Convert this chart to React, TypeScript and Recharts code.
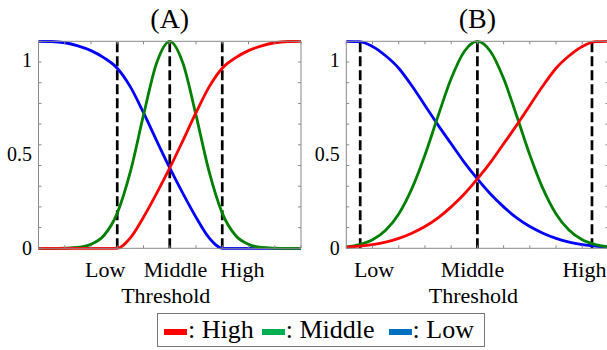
import { LineChart, Line, XAxis, YAxis, ReferenceLine } from 'recharts';

// x positions along the threshold axis (0 = left edge, 1 = right edge)
const xs = [0, 0.05, 0.1, 0.15, 0.2, 0.25, 0.3, 0.35, 0.4, 0.45, 0.5, 0.55, 0.6, 0.65, 0.7, 0.75, 0.8, 0.85, 0.9, 0.95, 1];

// panel (A)
const lowA = [1.0, 0.999, 0.993, 0.978, 0.955, 0.92, 0.87, 0.78, 0.655, 0.52, 0.388, 0.265, 0.15, 0.05, 0, 0, 0, 0, 0, 0, 0];
const midA = [0, 0, 0.001, 0.004, 0.019, 0.063, 0.17, 0.37, 0.643, 0.895, 1, 0.895, 0.643, 0.37, 0.17, 0.063, 0.019, 0.004, 0.001, 0, 0];
const highA = [0, 0, 0, 0, 0, 0, 0, 0.05, 0.15, 0.265, 0.388, 0.52, 0.655, 0.78, 0.87, 0.92, 0.955, 0.978, 0.993, 0.999, 1.0];

// panel (B)
const lowB = [1.0, 0.998, 0.975, 0.93, 0.87, 0.785, 0.69, 0.595, 0.505, 0.415, 0.335, 0.262, 0.2, 0.147, 0.105, 0.073, 0.048, 0.03, 0.018, 0.01, 0.005];
const midB = [0.007, 0.018, 0.041, 0.087, 0.166, 0.288, 0.451, 0.639, 0.82, 0.951, 1, 0.951, 0.82, 0.639, 0.451, 0.288, 0.166, 0.087, 0.041, 0.018, 0.007];
const highB = [0.005, 0.01, 0.018, 0.03, 0.048, 0.073, 0.105, 0.147, 0.2, 0.262, 0.335, 0.415, 0.505, 0.595, 0.69, 0.785, 0.87, 0.93, 0.975, 0.998, 1.0];

const thresholdNames = ['Low', 'Middle', 'High'];
const thresholdsA = [0.3, 0.5, 0.7];
const thresholdsB = [0.053, 0.5, 0.937];
const labelPosA = [0.254, 0.522, 0.777];
const labelPosB = [0.106, 0.481, 0.908];

const gridTicks = [0, 0.1, 0.2, 0.3, 0.4, 0.5, 0.6, 0.7, 0.8, 0.9, 1];
const yLabels = [0, 0.5, 1];

const seriesNames = ['High', 'Middle', 'Low'];
const lineColors = { High: '#ff0000', Middle: '#008000', Low: '#0000ff' };
const legendColors = { High: '#ff0000', Middle: '#00b050', Low: '#0070c0' };

const SERIF = '"Liberation Serif", "Times New Roman", serif';
const AXIS = '#8a8a8a';
const blank = () => '';

function rows(low: number[], mid: number[], high: number[]) {
  return xs.map((x, i) => ({ x, Low: low[i], Middle: mid[i], High: high[i] }));
}

interface PanelProps {
  title: string;
  data: ReturnType<typeof rows>;
  thresholds: number[];
  labelPos: number[];
  left: number;
  width: number;
  margin: { top: number; right: number; bottom: number; left: number };
}

function Panel({ title, data, thresholds, labelPos, left, width, margin }: PanelProps) {
  const textStyle = { fill: '#000', fontSize: 22, fontFamily: SERIF };
  return (
    <div style={{ position: 'absolute', left, top: 0 }}>
      <LineChart width={width} height={310} data={data} margin={margin}>
        {/* box with inward ticks (negative tick size points into the plot) */}
        <XAxis xAxisId="a0" dataKey="x" type="number" domain={[0, 1]} ticks={gridTicks} interval={0}
          height={1} tickFormatter={blank} tickSize={-3} stroke={AXIS} />
        <XAxis xAxisId="a1" dataKey="x" type="number" domain={[0, 1]} ticks={labelPos} interval={0}
          height={60} axisLine={false} tickLine={false} tickSize={0} tickMargin={12}
          tick={textStyle} tickFormatter={(_v: number, i: number) => thresholdNames[i]}
          label={{ value: 'Threshold', position: 'insideBottom', offset: 6.6, dx: -4, ...textStyle }} />
        <XAxis xAxisId="a2" dataKey="x" type="number" domain={[0, 1]} ticks={gridTicks} interval={0}
          orientation="top" height={1} tickFormatter={blank} tickSize={-3} stroke={AXIS}
          label={{ value: title, position: 'top', offset: 12.6, fill: '#000', fontSize: 28, fontFamily: SERIF }} />
        <YAxis yAxisId="b0" dataKey="High" type="number" domain={[0, 1]} ticks={gridTicks} interval={0}
          width={1} tickFormatter={blank} tickSize={-3} stroke={AXIS} />
        <YAxis yAxisId="b1" dataKey="High" type="number" domain={[0, 1.1]} ticks={yLabels} interval={0}
          width={1} axisLine={false} tickLine={false} tickSize={0} tickMargin={5.5}
          tick={{ fill: '#000', fontSize: 20, fontFamily: SERIF }} />
        <YAxis yAxisId="b2" dataKey="High" type="number" domain={[0, 1]} ticks={gridTicks} interval={0}
          orientation="right" width={1} tickFormatter={blank} tickSize={-3} stroke={AXIS} />

        {thresholds.map(t => (
          <ReferenceLine key={t} xAxisId="a0" yAxisId="b0" x={t} stroke="#000"
            strokeWidth={2.7} strokeDasharray="10 4" />
        ))}
        {['Low', 'Middle', 'High'].map(k => (
          <Line key={k} xAxisId="a0" yAxisId="b0" type="monotone" dataKey={k}
            stroke={lineColors[k as keyof typeof lineColors]} strokeWidth={2.8}
            dot={false} isAnimationActive={false} />
        ))}
      </LineChart>
    </div>
  );
}

export default function App() {
  return (
    <div style={{ position: 'absolute', left: 0, top: 0, width: 607, height: 350, overflow: 'hidden', background: '#fff', fontFamily: SERIF }}>
      <Panel title="(A)" data={rows(lowA, midA, highA)} thresholds={thresholdsA} labelPos={labelPosA}
        left={0} width={310} margin={{ top: 40.3, right: 8, bottom: 0.7, left: 36.5 }} />
      <Panel title="(B)" data={rows(lowB, midB, highB)} thresholds={thresholdsB} labelPos={labelPosB}
        left={310} width={300} margin={{ top: 40.3, right: 0.5, bottom: 0.7, left: 34.3 }} />

      {/* legend */}
      <div style={{
        position: 'absolute', left: 157, top: 313, width: 328, height: 34, boxSizing: 'border-box',
        border: '1px solid #777', display: 'flex', alignItems: 'flex-start', paddingLeft: 6,
      }}>
        {seriesNames.map((n, i) => (
          <div key={n} style={{ display: 'flex', alignItems: 'flex-start', marginRight: i === 0 ? 8 : 14 }}>
            <span style={{ width: 23, height: 6, marginTop: 15, background: legendColors[n as keyof typeof legendColors] }} />
            <span style={{ fontSize: 26, lineHeight: '32px', marginLeft: 1, whiteSpace: 'pre' }}>{': ' + n}</span>
          </div>
        ))}
      </div>
    </div>
  );
}
